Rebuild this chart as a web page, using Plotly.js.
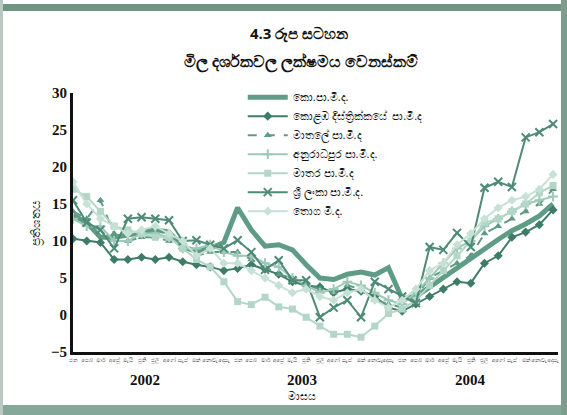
<!DOCTYPE html>
<html>
<head>
<meta charset="utf-8">
<script src="https://cdn.plot.ly/plotly-3.0.1.min.js"></script>
<style>
html,body{margin:0;padding:0;background:#fff;}
#wrap{position:relative;width:567px;height:415px;overflow:hidden;background:#fff;}
#frameTop{position:absolute;left:0;top:4px;width:567px;height:7px;background:#6f9484;}
#frameBot{position:absolute;left:0;top:405px;width:567px;height:10px;background:#86a898;}
#frameR{position:absolute;left:561px;top:0;width:6px;height:415px;background:#7c9c8e;}
#frameL{position:absolute;left:0;top:0;width:3px;height:415px;background:#b9c9c1;}
#chart{position:absolute;left:0;top:0;width:567px;height:415px;}
</style>
</head>
<body>
<div id="wrap">
<div id="chart"></div>
<div id="frameTop"></div><div id="frameBot"></div><div id="frameR"></div><div id="frameL"></div>
</div>
<script>
// Month labels (Sinhala), three years 2002-2004
const monthNames = ["ජන","පෙබ","මාර්","අප්‍රේ","මැයි","ජූනි","ජූලි","අගෝ","සැප්","ඔක්","නොවැ","දෙසැ"];
const years = ["2002","2003","2004"];
const monthLabels = [].concat(monthNames, monthNames, monthNames);
const xIdx = monthLabels.map((_, i) => i);

// Series values (percent change)
const ccpi        = [13.5,12.5,10.5,10.5,10.8,11.2,11.5,11.2,9.2,8.6,9.0,9.8,14.5,11.5,9.3,9.5,8.8,6.8,5.0,4.8,5.5,5.8,5.4,6.4,2.2,2.5,3.8,5.0,6.5,7.8,9.0,10.2,11.4,12.3,13.4,15.0];
const colomboDist = [10.3,10.0,9.8,7.5,7.5,7.8,7.5,7.8,7.2,6.8,6.5,6.0,6.3,6.8,6.2,5.5,4.5,4.0,3.8,3.0,3.5,3.2,2.5,1.0,0.5,1.5,2.5,3.5,4.5,4.3,7.0,8.0,10.5,11.2,12.2,14.2];
const matale      = [14.0,13.0,15.5,11.0,10.0,10.5,10.5,10.0,9.0,8.0,8.5,8.5,8.5,7.5,6.5,5.5,5.0,4.0,3.5,3.0,4.0,3.5,2.0,1.5,1.0,2.5,5.0,6.0,7.0,8.0,11.0,12.0,13.0,14.0,15.0,17.0];
const anuradhapura= [13.0,12.0,12.0,10.0,10.0,11.0,11.0,10.5,9.0,9.0,9.5,8.5,8.0,8.0,7.0,6.5,5.0,4.0,3.0,3.5,4.5,4.0,3.0,2.0,1.5,3.0,5.0,7.0,9.0,10.0,12.0,13.0,14.0,15.0,15.5,16.0];
const matara      = [17.0,16.0,14.0,12.0,11.5,11.0,10.5,10.5,9.0,7.5,6.5,4.5,1.8,1.4,2.4,1.1,0.8,-0.3,-1.5,-2.6,-2.6,-3.0,-1.5,0.2,0.8,2.0,4.0,6.0,8.0,10.0,12.5,13.0,14.0,15.0,16.5,17.5];
const sriLanka    = [15.5,12.5,11.5,9.0,13.0,13.2,13.0,12.8,10.0,10.1,9.5,9.0,10.1,8.5,6.1,7.4,4.7,4.7,-0.3,1.0,2.0,-0.3,4.5,3.5,2.5,1.6,9.2,8.8,11.1,9.2,17.2,18.0,17.3,24.0,24.7,25.8];
const wholesale   = [18.0,15.0,13.0,12.0,11.0,11.5,12.0,11.0,10.0,8.0,9.0,7.0,7.0,6.0,5.0,4.0,3.0,3.5,2.5,2.0,3.0,3.5,2.0,1.0,2.0,3.5,6.0,7.0,9.5,11.0,13.0,14.5,15.5,16.0,17.0,19.0];

const seriesNames = ["කො.පා.මි.ද.","කොළඹ දිස්ත්‍රික්කයේ  පා.මි.ද","මාතලේ පා.මි.ද","අනුරාධපුර පා.මි.ද.","මාතර පා.මි.ද","ශ්‍රී ලංකා පා.මි.ද.","තොග මි.ද."];
const seriesData = [ccpi, colomboDist, matale, anuradhapura, matara, sriLanka, wholesale];
const styles = [
  {line:{color:"#5f9c86",width:5}, mode:"lines"},
  {line:{color:"#3f7c67",width:2}, mode:"lines+markers", marker:{symbol:"diamond",size:7,color:"#3f7c67"}},
  {line:{color:"#5f9a85",width:2,dash:"dash"}, mode:"lines+markers", marker:{symbol:"triangle-up",size:7,color:"#5f9a85"}},
  {line:{color:"#9ec8b8",width:2}, mode:"lines+markers", marker:{symbol:"cross-thin-open",size:7,color:"#9ec8b8",line:{width:2,color:"#9ec8b8"}}},
  {line:{color:"#b3d6c8",width:2}, mode:"lines+markers", marker:{symbol:"square",size:7,color:"#b3d6c8"}},
  {line:{color:"#4d8b76",width:2}, mode:"lines+markers", marker:{symbol:"x-thin-open",size:8,color:"#4d8b76",line:{width:2,color:"#4d8b76"}}},
  {line:{color:"#c6e1d6",width:2}, mode:"lines+markers", marker:{symbol:"diamond",size:7,color:"#c6e1d6"}}
];

const traces = seriesNames.map((n, k) => Object.assign({
  type:"scatter", name:n, x:xIdx, y:seriesData[k]
}, styles[k]));

const serif = "Liberation Serif, Times New Roman, serif";
const layout = {
  width:567, height:415,
  paper_bgcolor:"rgba(0,0,0,0)", plot_bgcolor:"rgba(0,0,0,0)",
  margin:{l:73, r:9, t:93, b:63},
  showlegend:true,
  legend:{x:0.35, y:1.04, xanchor:"left", yanchor:"top", bgcolor:"rgba(255,255,255,0)",
          font:{size:11, color:"#111", family:"Noto Sans, DejaVu Sans"}, tracegroupgap:0, itemwidth:40},
  xaxis:{range:[0,35.36], tickmode:"array", tickvals:xIdx, ticktext:monthLabels,
         tickangle:0, tickfont:{size:5.5, color:"#111"}, showgrid:false, zeroline:false,
         showline:true, linecolor:"#111", linewidth:3, ticks:"", fixedrange:true},
  yaxis:{range:[-5,30], tickvals:[-5,0,5,10,15,20,25,30], showgrid:false, zeroline:false,
         showline:true, linecolor:"#111", linewidth:3, ticks:"",
         tickfont:{size:15, family:serif, color:"#111", weight:"bold"},
         title:{text:"ප්‍රතිශතය", font:{size:12, color:"#111"}, standoff:8}},
  annotations:[
    {text:"<b>4.3 රූප සටහන</b>", xref:"paper", yref:"paper", x:0.465, y:1.23, yanchor:"middle", showarrow:false, font:{size:15, color:"#111"}},
    {text:"<b>මිල දර්ශකවල ලක්ෂමය වෙනස්කම්</b>", xref:"paper", yref:"paper", x:0.47, y:1.12, yanchor:"middle", showarrow:false, font:{size:16, color:"#111"}},
    {text:"<b>2002</b>", xref:"x", yref:"paper", x:5.25, y:-0.11, yanchor:"middle", showarrow:false, font:{size:15, family:serif, color:"#111"}},
    {text:"<b>2003</b>", xref:"x", yref:"paper", x:16.7, y:-0.11, yanchor:"middle", showarrow:false, font:{size:15, family:serif, color:"#111"}},
    {text:"<b>2004</b>", xref:"x", yref:"paper", x:29.0, y:-0.11, yanchor:"middle", showarrow:false, font:{size:15, family:serif, color:"#111"}},
    {text:"මාසය", xref:"x", yref:"paper", x:16.7, y:-0.168, yanchor:"middle", showarrow:false, font:{size:11, color:"#111"}}
  ]
};
Plotly.newPlot("chart", traces, layout, {displayModeBar:false, staticPlot:true});
</script>
</body>
</html>
